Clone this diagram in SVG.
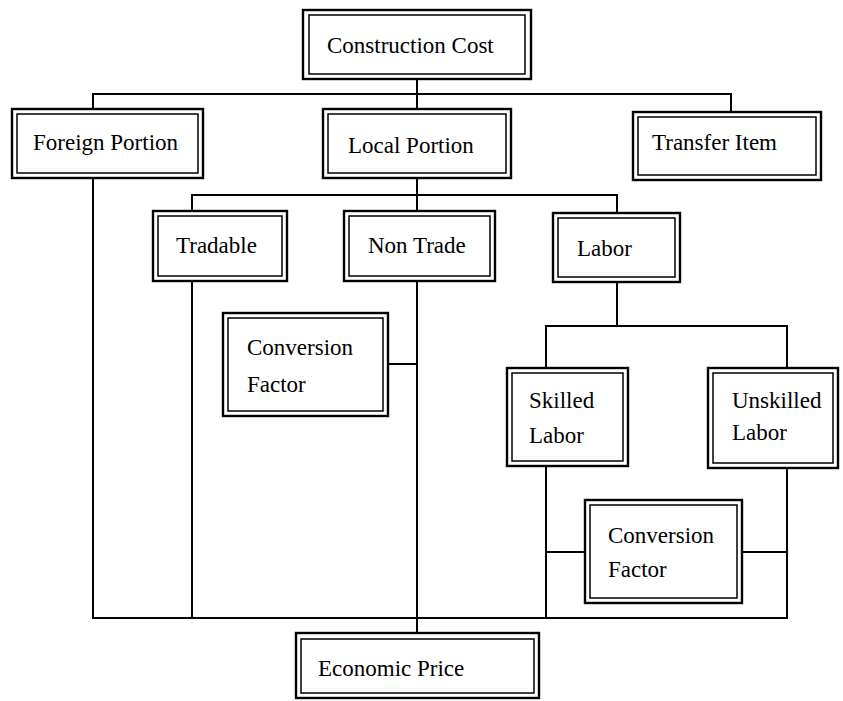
<svg xmlns="http://www.w3.org/2000/svg" width="843" height="701" viewBox="0 0 843 701">
<style>
.o{fill:none;stroke:#000;stroke-width:2.4}
.i{fill:none;stroke:#000;stroke-width:1.5}
.c{fill:none;stroke:#000;stroke-width:2;stroke-linecap:square}
text{font-family:"Liberation Serif","Times New Roman",serif;font-size:23px;fill:#000}
</style>
<rect width="843" height="701" fill="#fff"/>
<g id="connectors">
<path class="c" d="M417 79V94M93 94H731M93 94V109M417 94V109M731 94V112"/>
<path class="c" d="M93 178V618M417 178V195M192 195H617M192 195V211M417 195V211M617 195V213"/>
<path class="c" d="M192 281V618M417 281V633M388 364H417"/>
<path class="c" d="M617 282V326M546 326H787M546 326V368M787 326V368"/>
<path class="c" d="M546 466V618M787 468V618M546 552H585M742 552H787M93 618H787"/>
</g>
<g id="construction-cost"><rect class="o" x="303" y="10" width="228" height="69"/><rect class="i" x="309" y="15" width="216" height="59"/><text x="327" y="53">Construction Cost</text></g>
<g id="foreign-portion"><rect class="o" x="12" y="109" width="191" height="69"/><rect class="i" x="17" y="114" width="181" height="59"/><text x="33" y="150">Foreign Portion</text></g>
<g id="local-portion"><rect class="o" x="323" y="109" width="188" height="69"/><rect class="i" x="328" y="114" width="178" height="59"/><text x="348" y="153">Local Portion</text></g>
<g id="transfer-item"><rect class="o" x="633" y="112" width="188" height="68"/><rect class="i" x="638" y="117" width="178" height="58"/><text x="652" y="150">Transfer Item</text></g>
<g id="tradable"><rect class="o" x="153" y="211" width="134" height="70"/><rect class="i" x="158" y="216" width="124" height="60"/><text x="176" y="253">Tradable</text></g>
<g id="non-trade"><rect class="o" x="344" y="211" width="151" height="70"/><rect class="i" x="349" y="216" width="141" height="60"/><text x="368" y="253">Non Trade</text></g>
<g id="labor"><rect class="o" x="553" y="213" width="127" height="69"/><rect class="i" x="558" y="218" width="117" height="59"/><text x="577" y="256">Labor</text></g>
<g id="conversion-factor-1"><rect class="o" x="223" y="313" width="165" height="103"/><rect class="i" x="228" y="318" width="155" height="93"/><text x="247" y="355">Conversion</text><text x="247" y="392">Factor</text></g>
<g id="skilled-labor"><rect class="o" x="507" y="368" width="121" height="98"/><rect class="i" x="512" y="373" width="111" height="88"/><text x="529" y="408">Skilled</text><text x="529" y="443">Labor</text></g>
<g id="unskilled-labor"><rect class="o" x="708" y="368" width="130" height="100"/><rect class="i" x="713" y="373" width="120" height="90"/><text x="732" y="408">Unskilled</text><text x="732" y="440">Labor</text></g>
<g id="conversion-factor-2"><rect class="o" x="585" y="500" width="157" height="103"/><rect class="i" x="590" y="505" width="147" height="93"/><text x="608" y="543">Conversion</text><text x="608" y="577">Factor</text></g>
<g id="economic-price"><rect class="o" x="296" y="633" width="243" height="65"/><rect class="i" x="301" y="639" width="233" height="54"/><text x="318" y="676">Economic Price</text></g>
</svg>
